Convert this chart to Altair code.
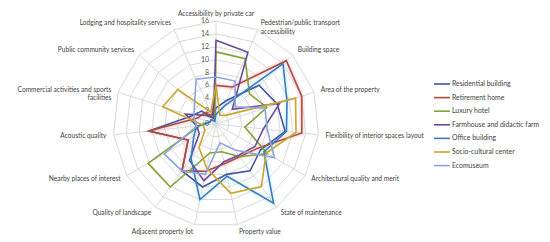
import altair as alt
import pandas as pd

axes = [
    ["Accessibility by private car"],
    ["Pedestrian/public transport", "accessibility"],
    ["Building space"],
    ["Area of the property"],
    ["Flexibility of interior spaces layout"],
    ["Architectural quality and merit"],
    ["State of maintenance"],
    ["Property value"],
    ["Adjacent property lot"],
    ["Quality of landscape"],
    ["Nearby places of interest"],
    ["Acoustic quality"],
    ["Commercial activities and sports", "facilities"],
    ["Public community services"],
    ["Lodging and hospitality services"],
]

series = ["Residential building", "Retirement home", "Luxury hotel",
          "Farmhouse and didactic farm", "Office building",
          "Socio-cultural center", "Ecomuseum"]
colors = ["#3F55A5", "#B04A36", "#7FA334", "#6A4C9C", "#3A78C0", "#C9A62A", "#8EA4DC"]
glow_series = ["Retirement home", "Office building"]
glow_colors = ["#F7BFCB", "#B5ECF5"]

residential = [2.5, 4, 9, 10, 10.8, 8, 9, 8, 10, 9, 5, 10.5, 4, 3, 1]
retirement = [6, 6.3, 14.7, 14, 13.4, 7.5, 6.3, 6.3, 7.5, 9, 5, 10.5, 3, 2.5, 1.5]
luxury = [11.2, 11.1, 7, 8.3, 4.5, 9.2, 6.3, 4.4, 4.6, 12.1, 12.2, 2.5, 1, 1, 0.5]
farmhouse = [13, 12.2, 3.4, 10.4, 7.4, 7, 6, 6, 9, 7, 3, 3, 5, 2, 1]
office = [1.5, 3, 14, 11.6, 11, 8.6, 15.2, 8.3, 12, 6.6, 4, 3, 1, 1, 0.5]
socio = [6, 1.5, 2, 13, 12.5, 9, 12, 11, 7, 4.5, 2, 2, 8.7, 8, 2]
ecomuseum = [7.3, 7.3, 4, 8, 8, 10.5, 5, 3, 8, 9, 9.3, 3, 3.6, 4.5, 7.6]
values = [residential, retirement, luxury, farmhouse, office, socio, ecomuseum]

rings = [2, 4, 6, 8, 10, 12, 14, 16]
tick_labels = [0, 2, 4, 6, 8, 10, 12, 14, 16]

N = len(axes)
U = 103 / 16.0
W, H = 534, 230
CX, CY = 208, 116
xdom = [-CX / U, (W - CX) / U]
ydom = [(CY - H) / U, CY / U]

xs = alt.Scale(domain=xdom, nice=False, zero=False)
ys = alt.Scale(domain=ydom, nice=False, zero=False)
X = lambda f: alt.X(f, type="quantitative", scale=xs, axis=None)
Y = lambda f: alt.Y(f, type="quantitative", scale=ys, axis=None)

ang = f"datum.i * 2 * PI / {N}"

df = pd.DataFrame([{"series": s, "i": i, "v": v}
                   for s, vals in zip(series, values) for i, v in enumerate(vals)])
grid = pd.DataFrame([{"ring": r, "i": i, "v": r} for r in rings for i in range(N)])
spokes = pd.DataFrame([{"i": i, "v": rings[-1]} for i in range(N)])
labels = pd.DataFrame([{"i": i, "t": t, "v": 17.1} for i, t in enumerate(axes)])
ticks = pd.DataFrame([{"v": v, "t": str(v)} for v in tick_labels])
leg = pd.DataFrame([{"series": s, "k": k} for k, s in enumerate(series)])

def polar(ch):
    return ch.transform_calculate(a=ang).transform_calculate(
        x="datum.v * sin(datum.a)", y="datum.v * cos(datum.a)")

grid_layer = polar(alt.Chart(grid)).mark_line(
    interpolate="linear-closed", stroke="#D9D9D9", strokeWidth=1
).encode(x=X("x"), y=Y("y"), detail="ring:N", order="i:Q")

spoke_layer = polar(alt.Chart(spokes)).transform_calculate(x0="0", y0="0").mark_rule(
    stroke="#D9D9D9", strokeWidth=1
).encode(x=X("x0"), y=Y("y0"), x2="x:Q", y2="y:Q")

glows = []
for gs, gc in zip(glow_series, glow_colors):
    glows.append(polar(alt.Chart(df)).transform_filter(
        alt.FieldEqualPredicate(field="series", equal=gs)
    ).mark_line(interpolate="linear-closed", strokeWidth=6, opacity=0.3, stroke=gc).encode(
        x=X("x"), y=Y("y"), order="i:Q"))

lines = polar(alt.Chart(df)).mark_line(
    interpolate="linear-closed", strokeWidth=1.6
).encode(
    x=X("x"), y=Y("y"),
    color=alt.Color("series:N", scale=alt.Scale(domain=series, range=colors), legend=None),
    detail="series:N", order="i:Q")

lab_base = polar(alt.Chart(labels)).transform_calculate(s="sin(datum.a)")
lab_font = dict(font="Lato", fontSize=6.6, color="#404040", baseline="middle", lineHeight=8.5)
lab_c = lab_base.transform_filter("abs(datum.s) < 0.01").mark_text(align="center", **lab_font).encode(
    x=X("x"), y=Y("y"), text="t")
lab_l = lab_base.transform_filter("datum.s >= 0.01").mark_text(align="left", **lab_font).encode(
    x=X("x"), y=Y("y"), text="t")
lab_r = lab_base.transform_filter("datum.s <= -0.01").mark_text(align="right", **lab_font).encode(
    x=X("x"), y=Y("y"), text="t")

tick_layer = alt.Chart(ticks).transform_calculate(x0="0").mark_text(
    align="right", baseline="middle", dx=-7, font="Lato", fontSize=7, color="#595959"
).encode(x=X("x0"), y=Y("v"), text="t")

leg_base = alt.Chart(leg).transform_calculate(
    lx0=f"{(434 - 216) / U}", lx1=f"{(450 - 216) / U}", tx=f"{(452 - 216) / U}",
    ly=f"({124 - 84} - 13.6 * datum.k) / {U}")
leg_lines = leg_base.mark_rule(strokeWidth=1.6).encode(
    x=X("lx0"), x2="lx1:Q", y=Y("ly"),
    color=alt.Color("series:N", scale=alt.Scale(domain=series, range=colors), legend=None))
leg_text = leg_base.mark_text(align="left", baseline="middle", font="Lato", fontSize=6.9,
                              color="#404040").encode(x=X("tx"), y=Y("ly"), text="series:N")

chart = alt.layer(grid_layer, spoke_layer, *glows, lines, tick_layer, lab_c, lab_l, lab_r,
                  leg_lines, leg_text).properties(
    width=W, height=H, padding=0, autosize=alt.AutoSizeParams(type="none")
).configure_view(stroke=None)

chart.save("out.html", embed_options={"renderer": "svg", "actions": False})
